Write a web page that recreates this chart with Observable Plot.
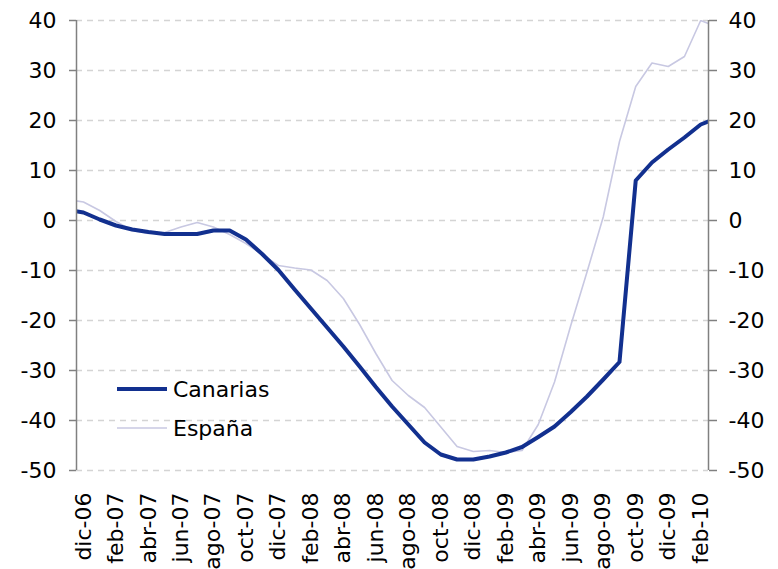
<!DOCTYPE html>
<html>
<head>
<meta charset="utf-8">
<script src="https://cdn.jsdelivr.net/npm/d3@7"></script>
<script src="https://cdn.jsdelivr.net/npm/@observablehq/plot@0.6"></script>
<style>
  html, body { margin: 0; padding: 0; background: #fff; }
  #wrap { position: relative; width: 778px; height: 569px; font-family: "DejaVu Sans", sans-serif; }
  .leg { position: absolute; left: 117px; display: flex; align-items: center; font-size: 22px; color: #000; }
  .leg svg { margin-right: 6px; }
</style>
</head>
<body>
<div id="wrap"></div>
<script>
// Months from nov-06 (index -1) to mar-10 (index 39); the axis shows dic-06 .. feb-10
const months = ["nov-06","dic-06","ene-07","feb-07","mar-07","abr-07","may-07","jun-07","jul-07","ago-07","sep-07","oct-07","nov-07","dic-07",
  "ene-08","feb-08","mar-08","abr-08","may-08","jun-08","jul-08","ago-08","sep-08","oct-08","nov-08","dic-08",
  "ene-09","feb-09","mar-09","abr-09","may-09","jun-09","jul-09","ago-09","sep-09","oct-09","nov-09","dic-09",
  "ene-10","feb-10","mar-10"];
const canarias = [2.1, 1.6, 0.2, -1.0, -1.8, -2.3, -2.7, -2.7, -2.7, -2.0, -2.0, -3.8, -6.7, -9.9,
  -13.8, -17.6, -21.4, -25.2, -29.2, -33.3, -37.2, -40.8, -44.4, -46.8, -47.8, -47.8,
  -47.2, -46.4, -45.3, -43.3, -41.2, -38.3, -35.2, -31.8, -28.3, 8.0, 11.6, 14.2,
  16.6, 19.2, 20.5];
const espana = [4.2, 3.7, 2.0, -0.2, -2.0, -2.6, -2.4, -1.3, -0.4, -1.3, -2.8, -4.6, -6.8, -9.0,
  -9.5, -9.9, -12.0, -15.6, -20.8, -26.6, -32.0, -35.0, -37.4, -41.3, -45.2, -46.2,
  -46.0, -46.4, -46.0, -40.8, -32.3, -21.0, -10.3, 0.7, 15.8, 26.8, 31.5, 30.8,
  32.8, 40.0, 38.7];
const seriesNames = ["Canarias", "España"];
const seriesColors = ["#12308f", "#c8c8e2"];
const yTicks = [-50, -40, -30, -20, -10, 0, 10, 20, 30, 40];
const xTickLabels = ["dic-06","feb-07","abr-07","jun-07","ago-07","oct-07","dic-07","feb-08","abr-08","jun-08",
  "ago-08","oct-08","dic-08","feb-09","abr-09","jun-09","ago-09","oct-09","dic-09","feb-10"];

// month index: dic-06 = 0
const idx = months.map((m, i) => i - 1);
const xDomain = [-0.43, 38.48];
const tickIdx = xTickLabels.map(l => months.indexOf(l) - 1);

const data = [];
idx.forEach((t, i) => {
  data.push({t, v: canarias[i], s: seriesNames[0]});
  data.push({t, v: espana[i], s: seriesNames[1]});
});

const chart = Plot.plot({
  width: 778,
  height: 569,
  marginLeft: 76,
  marginRight: 70,
  marginTop: 20,
  marginBottom: 99,
  style: { fontFamily: "DejaVu Sans, sans-serif", fontSize: "22px", color: "#000", background: "#fff" },
  x: { domain: xDomain },
  y: { domain: [-50, 40] },
  marks: [
    Plot.gridY(yTicks, { stroke: "#d4d4d4", strokeOpacity: 1, strokeWidth: 1.3, strokeDasharray: "6,5" }),
    Plot.lineY(data.filter(d => d.s === seriesNames[1]), { x: "t", y: "v", stroke: seriesColors[1], strokeWidth: 1.6, clip: true }),
    Plot.lineY(data.filter(d => d.s === seriesNames[0]), { x: "t", y: "v", stroke: seriesColors[0], strokeWidth: 4, strokeLinejoin: "round", clip: true }),
    Plot.ruleX(xDomain, { stroke: "#808080", strokeWidth: 1.5 }),
    Plot.axisY(yTicks, { anchor: "left", tickSize: 7, tickPadding: 13, stroke: "#808080", strokeWidth: 1.5, tickFormat: d => String(d), fontSize: 22, label: null }),
    Plot.axisY(yTicks, { anchor: "right", tickSize: 8, tickPadding: 12, stroke: "#808080", strokeWidth: 1.5, tickFormat: d => String(d), fontSize: 22, label: null }),
    Plot.axisX(tickIdx, { anchor: "bottom", tickSize: 0, tickPadding: 22, tickRotate: -90, tickFormat: (d, i) => xTickLabels[i], fontSize: 22, label: null })
  ]
});

const wrap = document.getElementById("wrap");
wrap.appendChild(chart);

// legend overlay
const legendTops = [376, 415];
seriesNames.forEach((name, i) => {
  const div = document.createElement("div");
  div.className = "leg";
  div.style.top = legendTops[i] + "px";
  const w = i === 0 ? 4 : 1.6;
  div.innerHTML = `<svg width="50" height="26"><line x1="0" x2="50" y1="13" y2="13" stroke="${seriesColors[i]}" stroke-width="${w}"/></svg><span>${name}</span>`;
  wrap.appendChild(div);
});
</script>
</body>
</html>
